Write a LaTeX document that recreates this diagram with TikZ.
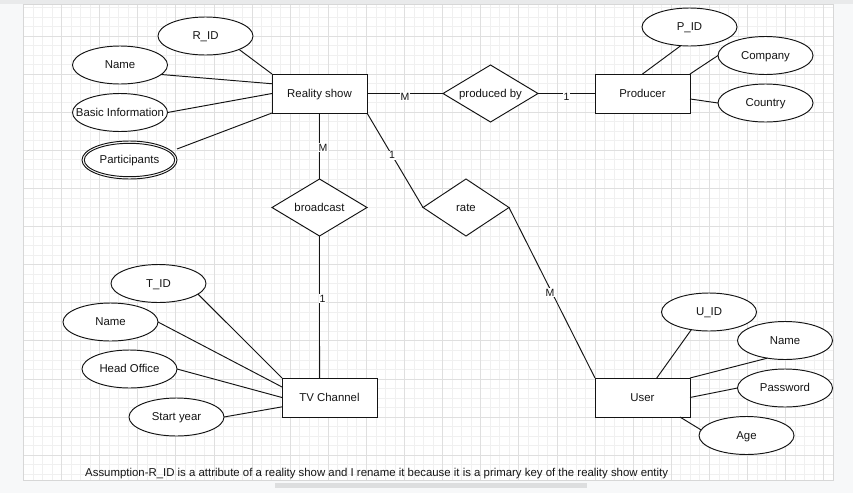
\documentclass[tikz,border=0pt]{standalone}
\usepackage{fontspec}
\setmainfont{Liberation Sans}
\usetikzlibrary{shapes.geometric,calc}
\definecolor{pagebg}{HTML}{F7F8F9}
\definecolor{topstrip}{HTML}{E9EAEB}
\definecolor{pageedge}{HTML}{D7D7D7}
\definecolor{scrollbar}{HTML}{DDDEDF}
\definecolor{minorgrid}{HTML}{F0F0F0}
\definecolor{majorgrid}{HTML}{DFDFDF}
\definecolor{ink}{HTML}{141414}
\begin{document}
\begin{tikzpicture}[x=1pt,y=-1pt,
  every node/.style={font=\fontsize{11.4}{13}\selectfont, text=ink},
  conn/.style={draw=ink, line width=0.95pt},
  ent/.style={draw=ink, line width=0.95pt, rectangle, fill=white, minimum width=95pt, minimum height=39pt, inner sep=0pt, outer sep=0pt, text height=8.9pt, text depth=1.8pt},
  attr/.style={draw=ink, line width=0.95pt, ellipse, fill=white, minimum width=95pt, minimum height=38pt, inner sep=0pt, outer sep=0pt, text height=8.9pt, text depth=1.8pt},
  rel/.style={draw=ink, line width=0.95pt, diamond, fill=white, minimum width=95pt, minimum height=57pt, inner sep=0pt, outer sep=0pt, text height=8.9pt, text depth=1.8pt},
  lbl/.style={font=\fontsize{10.5}{12}\selectfont, fill=white, inner sep=0.6pt, text height=7.6pt, text depth=0.2pt},
  minorline/.style={draw=minorgrid, line width=0.6pt},
  majorline/.style={draw=majorgrid, line width=0.7pt}
]
\useasboundingbox (0,0) rectangle (853,493);
\fill[pagebg] (0,0) rectangle (853,493);
\fill[topstrip] (0,0) rectangle (853,3.5);
\fill[white] (23.3,4) rectangle (833,480);
\begin{scope}
  \clip (23.3,4) rectangle (833,480);
  \foreach \k in {0,...,85} {
    \pgfmathsetmacro\xx{23.3+9.528*\k}
    \draw[minorline] (\xx,4) -- (\xx,480);
  }
  \foreach \j in {-7,...,42} {
    \pgfmathsetmacro\yy{74+9.528*\j}
    \draw[minorline] (23.3,\yy) -- (833,\yy);
  }
  \foreach \k in {0,4,...,84} {
    \pgfmathsetmacro\xx{23.3+9.528*\k}
    \draw[majorline] (\xx,4) -- (\xx,480);
  }
  \foreach \j in {-4,0,...,40} {
    \pgfmathsetmacro\yy{74+9.528*\j}
    \draw[majorline] (23.3,\yy) -- (833,\yy);
  }
\end{scope}
\draw[pageedge, line width=0.6pt] (23.3,4) rectangle (833,480);
\fill[scrollbar] (275,482.5) rectangle (587,487.5);

% entities
\node[ent] (rs) at (319.5,93.5) {Reality show};
\node[ent] (pr) at (642.5,93.5) {Producer};
\node[ent] (tv) at (329.5,397.5) {TV Channel};
\node[ent] (us) at (642.5,397.5) {User};

% relationships
\node[rel] (pb) at (490.5,93.5) {\makebox[0pt]{produced by}};
\node[rel] (bc) at (319.5,207.5) {\makebox[0pt]{broadcast}};
\node[rel, minimum width=86pt] (rt) at (466,207.5) {\makebox[0pt]{rate}};

% attributes
\node[attr] (rid) at (205.5,36) {R\_ID};
\node[attr] (rname) at (120,65) {Name};
\node[attr] (binfo) at (120,112.5) {\makebox[0pt]{Basic Information}};
\node[attr] (part) at (129.5,160) {};
\node[attr, minimum width=90.4pt, minimum height=33.4pt] (part2) at (part.center) {\makebox[0pt]{Participants}};
\node[attr] (pid) at (689.5,27) {P\_ID};
\node[attr] (comp) at (765.5,55.5) {\makebox[0pt]{Company}};
\node[attr] (ctry) at (765.5,103) {\makebox[0pt]{Country}};
\node[attr] (tid) at (158.5,283.5) {T\_ID};
\node[attr] (tname) at (110.5,322) {Name};
\node[attr] (hoff) at (129.5,369) {\makebox[0pt]{Head Office}};
\node[attr] (syear) at (176.5,417) {\makebox[0pt]{Start year}};
\node[attr] (uid) at (709,312) {U\_ID};
\node[attr] (uname) at (785,340.5) {Name};
\node[attr] (pwd) at (785,388) {\makebox[0pt]{Password}};
\node[attr] (age) at (746.5,435.5) {Age};

% attribute connectors
\draw[conn] (rid.south east) -- (rs.north west);
\draw[conn] (rname.-13) -- ($(rs.north west)!0.25!(rs.south west)$);
\draw[conn] (binfo.east) -- (rs.west);
\draw[conn] ([yshift=11pt]part.east) -- (rs.south west);
\draw[conn] (pid.-115) -- (pr.north);
\draw[conn] (comp.west) -- (pr.north east);
\draw[conn] (ctry.west) -- ($(pr.north east)!0.64!(pr.south east)$);
\draw[conn] (tid.-15) -- (tv.north west);
\draw[conn] (tname.east) -- ($(tv.north west)!0.23!(tv.south west)$);
\draw[conn] (hoff.east) -- (tv.west);
\draw[conn] (syear.east) -- ($(tv.north west)!0.74!(tv.south west)$);
\draw[conn] (uid.-135) -- ($(us.north west)!0.65!(us.north east)$);
\draw[conn] (uname.-135) -- (us.north east);
\draw[conn] (pwd.west) -- (us.east);
\draw[conn] (age.173) -- ($(us.south west)!0.894!(us.south east)$);

% relationship connectors
\draw[conn] (rs.east) -- node[lbl, yshift=-3pt] {M} (pb.west);
\draw[conn] (pb.east) -- node[lbl, yshift=-3.5pt] {1} (pr.west);
\draw[conn] (rs.south) -- node[lbl, pos=0.53, xshift=3.5pt] {M} (bc.north);
\draw[conn] (bc.south) -- node[lbl, pos=0.44, xshift=3pt] {1} ($(tv.north west)!0.395!(tv.north east)$);
\draw[conn] (rs.south east) -- node[lbl, pos=0.447] {1} (rt.west);
\draw[conn] (rt.east) -- node[lbl, pos=0.5, xshift=-2pt] {M} (us.north west);

% note
\node[anchor=base west, inner sep=0pt] (note) at (85,476) {Assumption-R\_ID is a attribute of a reality show and I rename it because it is a primary key of the reality show entity};
\end{tikzpicture}
\end{document}
